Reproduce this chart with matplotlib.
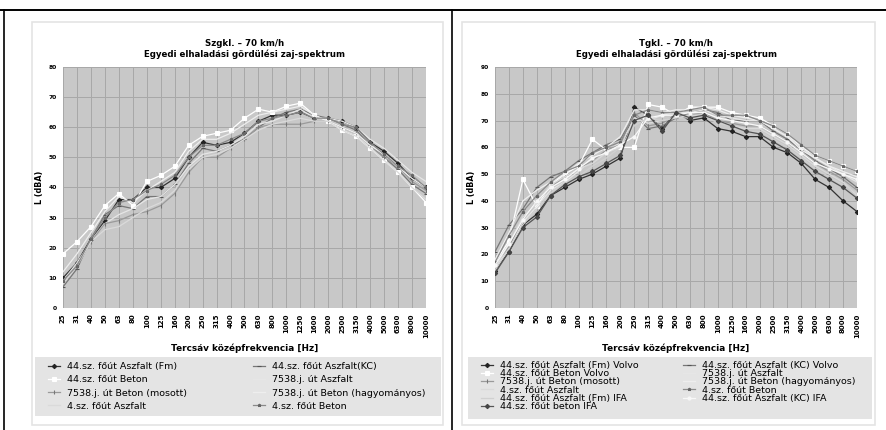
import numpy as np
from matplotlib import pyplot as plt
from matplotlib.patches import Rectangle
from matplotlib.lines import Line2D
from matplotlib.legend import Legend

plt.rcParams['font.family'] = ['DejaVu Sans']

# tercsav kozepfrekvenciak
freqs = ['25', '31', '40', '50', '63', '80', '100', '125', '160', '200', '250',
         '315', '400', '500', '630', '800', '1000', '1250', '1600', '2000',
         '2500', '3150', '4000', '5000', '6300', '8000', '10000']

# ---- Szgkl. 70 km/h ----
left_names = ['44.sz. főút Aszfalt (Fm)', '44.sz. főút Aszfalt(KC)',
              '44.sz. főút Beton', '7538.j. út Aszfalt',
              '7538.j. út Beton (mosott)', '7538.j. út Beton (hagyományos)',
              '4.sz. főút Aszfalt', '4.sz. főút Beton']
l_fm = [10, 15, 23, 29, 36, 36, 40, 40, 43, 50, 55, 54, 55, 58, 62, 64, 64, 65, 63, 63, 62, 60, 55, 52, 48, 43, 40]
l_kc = [7, 13, 23, 31, 34, 33, 37, 37, 41, 48, 53, 52, 54, 56, 60, 63, 65, 66, 64, 63, 61, 59, 54, 50, 46, 41, 38]
l_beton = [18, 22, 27, 34, 38, 34, 42, 44, 47, 54, 57, 58, 59, 63, 66, 65, 67, 68, 64, 62, 59, 57, 53, 49, 45, 40, 35]
l_7538_asz = [9, 15, 22, 28, 31, 33, 36, 37, 41, 47, 51, 52, 54, 57, 61, 62, 64, 66, 63, 63, 62, 60, 56, 53, 49, 45, 42]
l_7538_mos = [9, 14, 22, 28, 29, 31, 32, 34, 38, 45, 50, 50, 53, 56, 60, 61, 61, 61, 62, 62, 60, 58, 54, 50, 47, 42, 39]
l_7538_hagy = [12, 18, 25, 32, 37, 35, 39, 42, 45, 52, 56, 56, 58, 61, 64, 65, 66, 67, 64, 62, 60, 58, 54, 51, 47, 43, 40]
l_4_asz = [8, 14, 22, 26, 27, 30, 33, 35, 39, 46, 50, 51, 53, 56, 59, 61, 62, 63, 62, 62, 59, 57, 53, 49, 45, 40, 36]
l_4_bet = [9, 14, 23, 30, 35, 36, 39, 41, 44, 50, 54, 54, 56, 58, 62, 63, 64, 65, 63, 63, 61, 60, 55, 51, 47, 44, 40]
left_series = [l_fm, l_kc, l_beton, l_7538_asz, l_7538_mos, l_7538_hagy, l_4_asz, l_4_bet]

# ---- Tgkl. 70 km/h ----
right_names = ['44.sz. főút Aszfalt (Fm) Volvo', '44.sz. főút Aszfalt (KC) Volvo',
               '44.sz. főút Beton Volvo', '7538.j. út Aszfalt',
               '7538.j. út Beton (mosott)', '7538.j. út Beton (hagyományos)',
               '4.sz. főút Aszfalt', '4.sz. főút Beton',
               '44.sz. főút Aszfalt (Fm) IFA', '44.sz. főút Aszfalt (KC) IFA',
               '44.sz. főút beton IFA']
r_fm_volvo = [14, 21, 31, 35, 42, 45, 48, 50, 53, 56, 75, 72, 67, 73, 70, 71, 67, 66, 64, 64, 60, 58, 54, 48, 45, 40, 36]
r_kc_volvo = [21, 31, 37, 45, 49, 51, 55, 58, 61, 63, 72, 67, 68, 71, 73, 74, 73, 70, 70, 70, 66, 63, 59, 55, 52, 49, 45]
r_bet_volvo = [17, 25, 48, 38, 46, 50, 53, 63, 59, 60, 60, 76, 75, 72, 75, 75, 75, 73, 72, 71, 68, 65, 60, 57, 55, 53, 51]
r_7538_asz = [15, 22, 32, 38, 44, 47, 51, 56, 58, 62, 70, 70, 72, 73, 73, 74, 72, 71, 70, 70, 67, 64, 60, 56, 53, 50, 47]
r_7538_mos = [16, 23, 33, 40, 45, 49, 52, 55, 59, 61, 73, 68, 69, 72, 72, 73, 70, 69, 68, 68, 65, 62, 58, 54, 51, 48, 44]
r_7538_hagy = [18, 28, 40, 44, 47, 50, 54, 57, 60, 64, 74, 74, 73, 74, 74, 75, 74, 72, 71, 70, 67, 64, 59, 56, 53, 51, 49]
r_4_asz = [15, 24, 34, 39, 46, 49, 52, 54, 58, 60, 71, 69, 70, 71, 72, 72, 70, 68, 67, 67, 64, 61, 57, 53, 50, 47, 42]
r_4_bet = [17, 27, 36, 42, 47, 51, 53, 58, 60, 62, 72, 74, 73, 73, 74, 75, 72, 72, 72, 70, 68, 65, 61, 57, 55, 53, 51]
r_fm_ifa = [14, 22, 31, 37, 43, 47, 49, 53, 56, 60, 68, 71, 70, 71, 71, 72, 69, 68, 66, 66, 63, 60, 56, 52, 49, 46, 43]
r_kc_ifa = [16, 24, 33, 40, 45, 48, 52, 56, 58, 61, 64, 71, 72, 72, 73, 73, 71, 70, 69, 68, 65, 62, 58, 54, 52, 50, 48]
r_bet_ifa = [13, 21, 30, 34, 42, 46, 49, 51, 54, 57, 70, 72, 66, 73, 71, 72, 70, 68, 66, 65, 62, 59, 55, 51, 48, 45, 41]
right_series = [r_fm_volvo, r_kc_volvo, r_bet_volvo, r_7538_asz, r_7538_mos, r_7538_hagy,
                r_4_asz, r_4_bet, r_fm_ifa, r_kc_ifa, r_bet_ifa]

# (line colour, marker, marker colour) - the original is grayscale
styles = [('#333333', 'D', '#222222'), ('#777777', '_', '#555555'),
          ('#ffffff', 's', '#ffffff'), ('#e6e6e6', '', '#e6e6e6'),
          ('#9a9a9a', '|', '#777777'), ('#eeeeee', '', '#eeeeee'),
          ('#dadada', '', '#dadada'), ('#8a8a8a', '*', '#666666'),
          ('#d0d0d0', '', '#d0d0d0'), ('#f8f8f8', 'o', '#f8f8f8'),
          ('#555555', 'D', '#444444')]

W, H = 887.0, 430.0


def px(x, y):
    '''pixel position (from top left) -> figure fraction'''
    return x / W, 1 - y / H


def draw_panel(fig, rect, box, leg_bg, leg_cols, leg_top, series, names, ymax, title, leg_spacing):
    # white chart area with a light frame, kept behind the axes
    fig.patches.append(Rectangle(px(box[0], box[3]), (box[2] - box[0]) / W, (box[3] - box[1]) / H,
                                 transform=fig.transFigure, facecolor='white',
                                 edgecolor='#e4e4e4', lw=1.2, zorder=-10))
    # legend background
    fig.patches.append(Rectangle(px(leg_bg[0], leg_bg[3]), (leg_bg[2] - leg_bg[0]) / W,
                                 (leg_bg[3] - leg_bg[1]) / H, transform=fig.transFigure,
                                 facecolor='#e4e4e4', edgecolor='none', zorder=-5))
    ax = fig.add_axes(rect)
    ax.set_zorder(1)
    ax.set_facecolor('#c8c8c8')
    x = np.arange(len(freqs))
    lines = []
    for i, vals in enumerate(series):
        col, mk, mcol = styles[i]
        ln, = ax.plot(x, vals, color=col, lw=0.9, marker=mk if mk else None, ms=2.2,
                      mfc=mcol, mec=mcol, mew=0.8, label=names[i])
        lines.append(ln)
    ax.set_xlim(0, len(freqs) - 1)
    ax.set_ylim(0, ymax)
    ax.set_yticks(np.arange(0, ymax + 1, 10))
    ax.set_xticks(x)
    ax.set_xticklabels(freqs, rotation=90, fontsize=5, fontweight='bold')
    ax.tick_params(axis='y', labelsize=4.3, length=0, pad=4.5)
    ax.tick_params(axis='x', length=0, pad=4)
    for lbl in ax.get_yticklabels():
        lbl.set_fontweight('bold')
    ax.grid(True, color='#a8a8a8', lw=0.7)
    ax.set_axisbelow(True)
    for s in ax.spines.values():
        s.set_visible(False)
    ax.set_title(title, fontsize=6.2, fontweight='bold', pad=7, linespacing=1.2)
    ax.set_xlabel('Tercsáv középfrekvencia [Hz]', fontsize=6.4, fontweight='bold', labelpad=4)
    ax.set_ylabel('L (dBA)', fontsize=5.8, fontweight='bold', labelpad=3)

    # legend filled row by row: one legend per column
    for c, xc in enumerate(leg_cols):
        idx = list(range(c, len(lines), 2))
        leg = Legend(ax, [lines[k] for k in idx], [names[k] for k in idx],
                     loc='upper left', bbox_to_anchor=px(xc, leg_top),
                     bbox_transform=fig.transFigure, fontsize=6.8, frameon=False,
                     labelspacing=leg_spacing, handlelength=1.3, handletextpad=0.7,
                     borderaxespad=0, borderpad=0)
        ax.add_artist(leg)
    return ax


fig = plt.figure(figsize=(8.87, 4.30), dpi=100)

# table lines of the source document
fig.add_artist(Line2D([0, 886 / W], [1 - 9.5 / H, 1 - 9.5 / H], color='black', lw=1.4))
fig.add_artist(Line2D([4 / W, 4 / W], [0, 1 - 9.5 / H], color='black', lw=1.2))
fig.add_artist(Line2D([452 / W, 452 / W], [0, 1 - 9.5 / H], color='black', lw=1.2))

draw_panel(fig, [63 / W, 1 - 308 / H, 363 / W, 241 / H],
           (32, 22, 443, 425), (35, 357, 441, 416), (48, 253), 362,
           left_series, left_names, 80,
           'Szgkl. – 70 km/h\nEgyedi elhaladási gördülési zaj-spektrum', 0.45)

draw_panel(fig, [495 / W, 1 - 308 / H, 362 / W, 241 / H],
           (462, 22, 875, 425), (468, 357, 872, 419), (481, 683), 361,
           right_series, right_names, 90,
           'Tgkl. – 70 km/h\nEgyedi elhaladási gördülési zaj-spektrum', -0.08)

fig.savefig('out.png', dpi=100)
